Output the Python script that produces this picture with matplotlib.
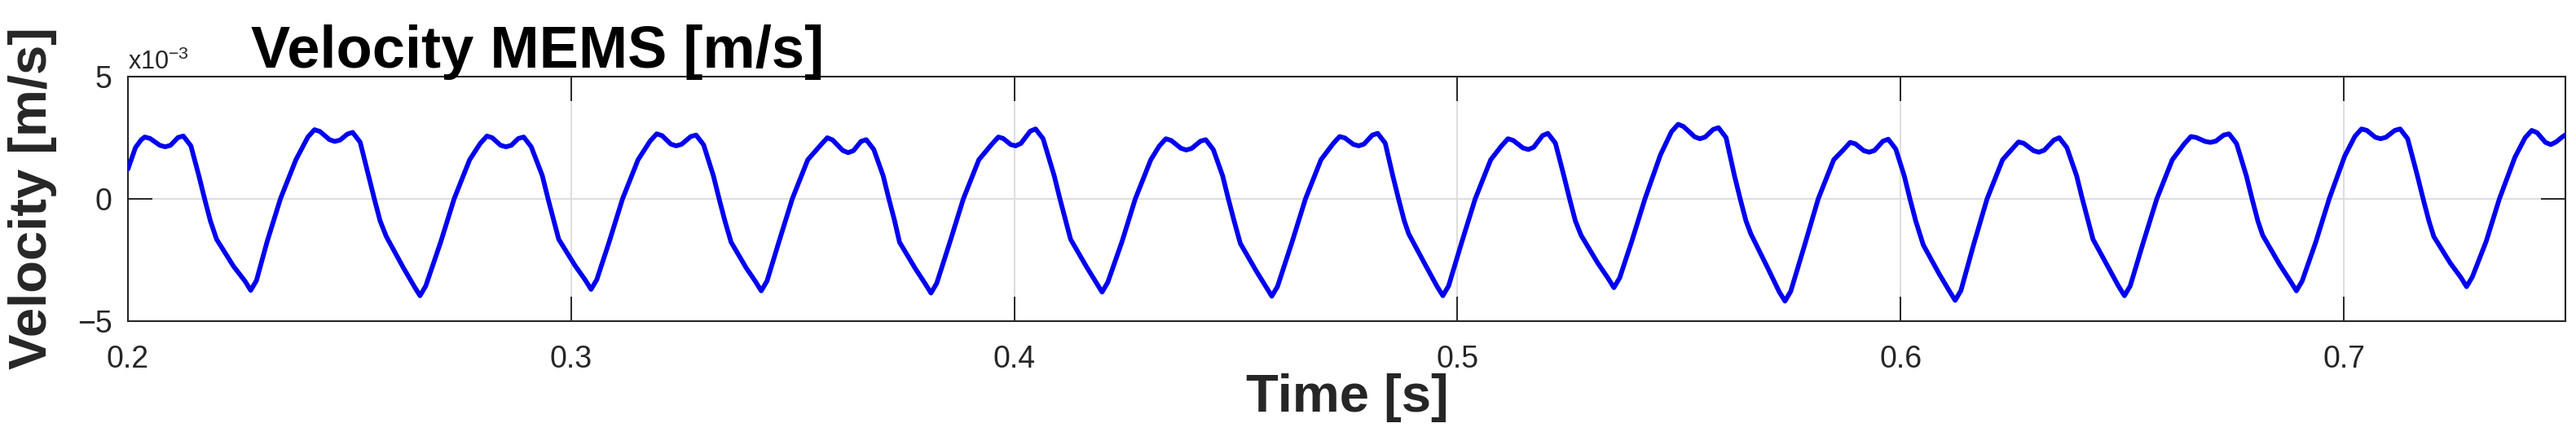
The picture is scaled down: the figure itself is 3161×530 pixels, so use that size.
import matplotlib
matplotlib.use("Agg")
import matplotlib.pyplot as plt

plt.rcParams['font.family'] = ['Liberation Sans', 'DejaVu Sans']
plt.rcParams['mathtext.default'] = 'regular'

# time axis [s] (one row per cycle)
time_s = [
    0.2000, 0.2017, 0.2030, 0.2038, 0.2050, 0.2072, 0.2084, 0.2096, 0.2113, 0.2125, 0.2142, 0.2160, 0.2173, 0.2186, 0.2200, 0.2238, 0.2264,
    0.2277, 0.2290, 0.2314, 0.2344, 0.2379, 0.2406, 0.2421, 0.2433, 0.2455, 0.2467, 0.2479, 0.2495, 0.2507, 0.2524, 0.2543, 0.2556, 0.2569, 0.2583, 0.2621, 0.2646,
    0.2659, 0.2672, 0.2706, 0.2736, 0.2771, 0.2795, 0.2810, 0.2822, 0.2841, 0.2853, 0.2865, 0.2881, 0.2893, 0.2910, 0.2935, 0.2948, 0.2961, 0.2972, 0.3009, 0.3032,
    0.3045, 0.3058, 0.3086, 0.3116, 0.3151, 0.3178, 0.3193, 0.3205, 0.3225, 0.3237, 0.3249, 0.3270, 0.3282, 0.3299, 0.3321, 0.3334, 0.3347, 0.3361, 0.3395, 0.3416,
    0.3429, 0.3442, 0.3469, 0.3499, 0.3534, 0.3563, 0.3578, 0.3590, 0.3613, 0.3625, 0.3637, 0.3654, 0.3666, 0.3683, 0.3704, 0.3717, 0.3730, 0.3741, 0.3777, 0.3799,
    0.3812, 0.3825, 0.3855, 0.3885, 0.3920, 0.3949, 0.3964, 0.3975, 0.3992, 0.4003, 0.4015, 0.4036, 0.4048, 0.4065, 0.4090, 0.4103, 0.4116, 0.4127, 0.4163, 0.4185,
    0.4198, 0.4211, 0.4243, 0.4273, 0.4308, 0.4327, 0.4342, 0.4354, 0.4376, 0.4388, 0.4400, 0.4420, 0.4432, 0.4449, 0.4470, 0.4483, 0.4496, 0.4510, 0.4546, 0.4568,
    0.4581, 0.4594, 0.4627, 0.4657, 0.4692, 0.4719, 0.4734, 0.4746, 0.4765, 0.4777, 0.4789, 0.4808, 0.4820, 0.4837, 0.4854, 0.4867, 0.4880, 0.4890, 0.4929, 0.4954,
    0.4967, 0.4980, 0.5010, 0.5040, 0.5075, 0.5099, 0.5114, 0.5126, 0.5148, 0.5160, 0.5172, 0.5192, 0.5204, 0.5221, 0.5240, 0.5253, 0.5266, 0.5279, 0.5316, 0.5340,
    0.5353, 0.5366, 0.5393, 0.5423, 0.5458, 0.5483, 0.5498, 0.5510, 0.5535, 0.5547, 0.5559, 0.5577, 0.5589, 0.5606, 0.5625, 0.5638, 0.5651, 0.5662, 0.5701, 0.5726,
    0.5739, 0.5752, 0.5784, 0.5814, 0.5849, 0.5871, 0.5886, 0.5898, 0.5917, 0.5929, 0.5941, 0.5960, 0.5972, 0.5989, 0.6008, 0.6021, 0.6034, 0.6051, 0.6087, 0.6110,
    0.6123, 0.6136, 0.6165, 0.6195, 0.6230, 0.6251, 0.6266, 0.6278, 0.6300, 0.6312, 0.6324, 0.6346, 0.6358, 0.6375, 0.6397, 0.6410, 0.6423, 0.6434, 0.6470, 0.6492,
    0.6505, 0.6518, 0.6548, 0.6578, 0.6613, 0.6640, 0.6655, 0.6667, 0.6687, 0.6699, 0.6711, 0.6729, 0.6741, 0.6758, 0.6780, 0.6793, 0.6806, 0.6817, 0.6855, 0.6880,
    0.6893, 0.6906, 0.6937, 0.6967, 0.7002, 0.7025, 0.7040, 0.7052, 0.7071, 0.7083, 0.7095, 0.7115, 0.7127, 0.7144, 0.7166, 0.7179, 0.7192, 0.7203, 0.7240, 0.7264,
    0.7277, 0.7290, 0.7321, 0.7351, 0.7386, 0.7409, 0.7424, 0.7436, 0.7455, 0.7467, 0.7479, 0.7492, 0.7500,
]

# velocity in units of 1e-3 m/s
vel_e3 = [
    1.22, 2.10, 2.42, 2.53, 2.47, 2.19, 2.13, 2.19, 2.51, 2.57, 2.17, 0.95, 0.00, -0.90, -1.65, -2.75, -3.36,
    -3.74, -3.34, -1.75, 0.00, 1.60, 2.53, 2.83, 2.76, 2.42, 2.35, 2.41, 2.65, 2.72, 2.32, 0.95, 0.00, -0.90, -1.54, -2.80, -3.58,
    -3.96, -3.56, -1.75, 0.00, 1.60, 2.27, 2.57, 2.50, 2.19, 2.13, 2.19, 2.47, 2.53, 2.13, 0.95, 0.00, -0.90, -1.65, -2.73, -3.32,
    -3.70, -3.30, -1.75, 0.00, 1.60, 2.36, 2.66, 2.59, 2.24, 2.17, 2.23, 2.55, 2.61, 2.21, 0.95, 0.00, -0.90, -1.77, -2.82, -3.38,
    -3.76, -3.36, -1.75, 0.00, 1.60, 2.20, 2.50, 2.41, 1.98, 1.89, 1.97, 2.35, 2.42, 2.02, 0.95, 0.00, -0.90, -1.77, -2.86, -3.47,
    -3.85, -3.45, -1.75, 0.00, 1.60, 2.23, 2.53, 2.47, 2.22, 2.17, 2.27, 2.77, 2.86, 2.46, 0.95, 0.00, -0.90, -1.65, -2.78, -3.43,
    -3.81, -3.41, -1.75, 0.00, 1.60, 2.16, 2.46, 2.39, 2.07, 2.00, 2.06, 2.36, 2.42, 2.02, 0.95, 0.00, -0.90, -1.82, -2.95, -3.60,
    -3.98, -3.58, -1.75, 0.00, 1.60, 2.25, 2.55, 2.49, 2.23, 2.17, 2.24, 2.61, 2.68, 2.28, 0.95, 0.00, -0.90, -1.43, -2.75, -3.58,
    -3.96, -3.56, -1.75, 0.00, 1.60, 2.16, 2.46, 2.39, 2.08, 2.02, 2.11, 2.59, 2.68, 2.28, 0.95, 0.00, -0.90, -1.49, -2.61, -3.25,
    -3.63, -3.23, -1.75, 0.00, 1.80, 2.75, 3.05, 2.96, 2.54, 2.46, 2.53, 2.84, 2.91, 2.51, 0.95, 0.00, -0.90, -1.43, -2.86, -3.80,
    -4.18, -3.78, -1.85, 0.00, 1.60, 2.01, 2.31, 2.25, 1.97, 1.91, 1.98, 2.36, 2.44, 2.04, 0.95, 0.00, -0.90, -1.88, -3.07, -3.77,
    -4.15, -3.75, -1.85, 0.00, 1.60, 2.03, 2.33, 2.27, 1.97, 1.91, 1.99, 2.41, 2.50, 2.10, 0.95, 0.00, -0.90, -1.65, -2.85, -3.58,
    -3.96, -3.56, -1.75, 0.00, 1.60, 2.25, 2.55, 2.51, 2.35, 2.31, 2.36, 2.61, 2.66, 2.26, 0.95, 0.00, -0.90, -1.49, -2.68, -3.38,
    -3.76, -3.36, -1.75, 0.00, 1.75, 2.56, 2.86, 2.80, 2.52, 2.46, 2.52, 2.80, 2.86, 2.46, 0.95, 0.00, -0.90, -1.54, -2.62, -3.21,
    -3.59, -3.19, -1.75, 0.00, 1.70, 2.50, 2.80, 2.71, 2.31, 2.22, 2.33, 2.52, 2.62,
]

x_ticks = [0.2, 0.3, 0.4, 0.5, 0.6, 0.7]
y_ticks = [-5, 0, 5]

W, H = 3161, 530
fig = plt.figure(figsize=(W / 100, H / 100), dpi=100)
ax = fig.add_axes([157 / W, 1 - 394 / H, (3148 - 157) / W, (394 - 94) / H])

ax.plot(time_s, vel_e3, color='#0000f0', linewidth=4.2, solid_joinstyle='round',
        solid_capstyle='round', zorder=3)

ax.set_xlim(0.2, 0.75)
ax.set_ylim(-5, 5)
ax.set_xticks(x_ticks)
ax.set_yticks(y_ticks)
ax.set_xticklabels(['%g' % t for t in x_ticks])
ax.set_yticklabels(['\u22125', '0', '5'])

ax.grid(True, color='#dedede', linewidth=1.5)
ax.set_axisbelow(True)
for s in ax.spines.values():
    s.set_color('#262626')
    s.set_linewidth(1.5)

ax.tick_params(direction='in', length=21.6, width=1.4, top=True, right=True,
               colors='#262626', labelsize=27)
ax.tick_params(axis='x', pad=21)
ax.tick_params(axis='y', pad=14)

# exponent label, MATLAB style
fig.text(157 / W, 1 - 85 / H, 'x10$^{-3}$', fontsize=22, color='#262626',
         ha='left', va='baseline')

fig.text(308 / W, 1 - 83 / H, 'Velocity MEMS [m/s]', fontsize=52, fontweight='bold',
         ha='left', va='baseline', color='black')
fig.text(40 / W, 1 - 243 / H, 'Velocity [m/s]', fontsize=47, fontweight='bold',
         rotation=90, ha='center', va='center', color='#262626')
fig.text(1653 / W, 1 - 505 / H, 'Time [s]', fontsize=47, fontweight='bold',
         ha='center', va='baseline', color='#262626')

fig.savefig('out.png', dpi=100)
